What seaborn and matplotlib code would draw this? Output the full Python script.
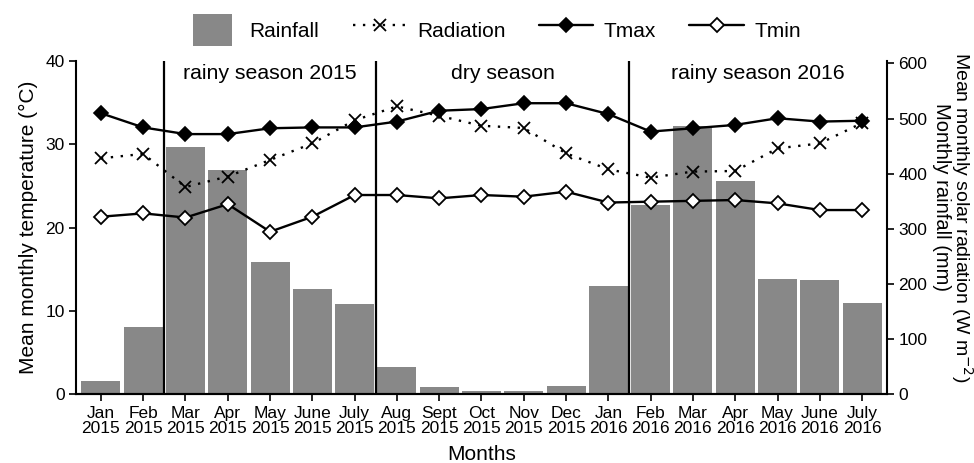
import numpy as np
import pandas as pd
import matplotlib
matplotlib.use("Agg")
import matplotlib.pyplot as plt
import matplotlib.patches as mpatches
from matplotlib.container import BarContainer
from matplotlib.legend_handler import HandlerPatch, update_from_first_child
import seaborn as sns

# ---- data -------------------------------------------------------------
months = ["Jan\n2015", "Feb\n2015", "Mar\n2015", "Apr\n2015", "May\n2015",
          "June\n2015", "July\n2015", "Aug\n2015", "Sept\n2015", "Oct\n2015",
          "Nov\n2015", "Dec\n2015", "Jan\n2016", "Feb\n2016", "Mar\n2016",
          "Apr\n2016", "May\n2016", "June\n2016", "July\n2016"]
rainfall = [24, 122, 449, 406, 240, 191, 164, 49, 14, 6, 6, 16, 196,
            343, 487, 386, 209, 208, 165]                      # mm
radiation = [428, 436, 376, 395, 425, 455, 497, 522, 505, 487, 483, 437,
             408, 393, 404, 405, 446, 455, 492]                # W m-2
tmax = [33.7, 32.0, 31.2, 31.2, 31.9, 32.0, 32.0, 32.7, 34.0, 34.2, 34.9,
        34.9, 33.6, 31.5, 31.9, 32.3, 33.1, 32.7, 32.8]        # deg C
tmin = [21.3, 21.7, 21.2, 22.8, 19.5, 21.3, 23.9, 23.9, 23.5, 23.9, 23.7,
        24.3, 23.0, 23.1, 23.2, 23.3, 22.9, 22.1, 22.1]        # deg C
season_names = ["rainy season 2015", "dry season", "rainy season 2016"]
season_bounds = [1.5, 6.5, 12.5]

df = pd.DataFrame({"month": months, "pos": np.arange(len(months)),
                   "rainfall": rainfall, "radiation": radiation,
                   "tmax": tmax, "tmin": tmin})

# ---- style ------------------------------------------------------------
sns.set_style("ticks")
plt.rcParams["font.family"] = ["Liberation Sans", "DejaVu Sans"]
plt.rcParams.update({
    "axes.linewidth": 1.5,
    "xtick.major.width": 1.2, "ytick.major.width": 1.2,
    "xtick.major.size": 5, "ytick.major.size": 5,
    "xtick.color": "black", "ytick.color": "black",
    "xtick.labelcolor": "black", "ytick.labelcolor": "black",
    "axes.edgecolor": "black", "axes.labelcolor": "black",
    "text.color": "black",
})

BAR = "#888888"
fig = plt.figure(figsize=(9.74, 4.63), dpi=100)
ax_r = fig.add_axes([0.078, 0.148, 0.8327, 0.721])   # rainfall / radiation
ax_t = ax_r.twinx()                                   # temperatures, on top

# rainfall bars and radiation line on the mm / W m-2 scale
sns.barplot(data=df, x="month", y="rainfall", ax=ax_r, color=BAR,
            saturation=1, width=0.92, linewidth=0, label="Rainfall")
sns.lineplot(data=df, x="pos", y="radiation", ax=ax_r, color="black",
             linestyle=(0, (1, 3.2)), linewidth=1.7, marker="x",
             markersize=8, markeredgewidth=1.3, markeredgecolor="black",
             label="Radiation")

# temperature lines on the deg C scale
sns.lineplot(data=df, x="pos", y="tmax", ax=ax_t, color="black",
             linewidth=1.7, marker="D", markersize=7.2,
             markerfacecolor="black", markeredgecolor="black",
             markeredgewidth=1.2, label="Tmax")
sns.lineplot(data=df, x="pos", y="tmin", ax=ax_t, color="black",
             linewidth=1.7, marker="D", markersize=7.2,
             markerfacecolor="white", markeredgecolor="black",
             markeredgewidth=1.3, label="Tmin")

for a in (ax_r, ax_t):
    if a.get_legend() is not None:
        a.get_legend().remove()

# axis sides: temperature on the left, rainfall/radiation on the right
ax_t.yaxis.tick_left()
ax_t.yaxis.set_label_position("left")
ax_r.yaxis.tick_right()
ax_r.yaxis.set_label_position("right")

ax_r.set_xlim(-0.59, len(months) - 1 + 0.59)
ax_r.set_ylim(0, 605)
ax_r.set_yticks([0, 100, 200, 300, 400, 500, 600])
ax_t.set_ylim(0, 40)
ax_t.set_yticks([0, 10, 20, 30, 40])

ax_r.tick_params(axis="x", labelsize=12.5, pad=3, direction="out")
ax_r.tick_params(axis="y", labelsize=12.5, pad=3, direction="out")
ax_t.tick_params(axis="y", labelsize=12.5, pad=3, direction="out")
ax_r.set_xticks(range(len(months)))
ax_r.set_xticklabels(months, linespacing=1.05)

for s in ("top", "left"):
    ax_r.spines[s].set_visible(False)
for s in ("top", "right"):
    ax_t.spines[s].set_visible(False)

ax_r.set_xlabel("Months", fontsize=15)
ax_r.xaxis.set_label_coords(0.5, -0.152)
ax_r.set_ylabel("")
ax_t.set_ylabel("Mean monthly temperature (\u00b0C)", fontsize=15)
ax_t.yaxis.set_label_coords(-0.047, 0.5)

fig.text(0.9877, 0.531, r"Mean monthly solar radiation (W m$^{-2}$)",
         rotation=270, ha="center", va="center", fontsize=14)
fig.text(0.9665, 0.5745, "Monthly rainfall (mm)",
         rotation=270, ha="center", va="center", fontsize=14.5)

# season dividers and names
for b in season_bounds:
    ax_t.axvline(b, color="black", linewidth=1.6, zorder=5)
edges = season_bounds + [ax_r.get_xlim()[1]]
for name, lo, hi in zip(season_names, edges[:-1], edges[1:]):
    ax_t.text((lo + hi) / 2, 0.962, name, transform=ax_t.get_xaxis_transform(),
              ha="center", va="center", fontsize=15.3)

# legend across the top: Rainfall, Radiation, Tmax, Tmin
h_r, l_r = ax_r.get_legend_handles_labels()
h_t, l_t = ax_t.get_legend_handles_labels()
handles = dict(zip(l_r + l_t, h_r + h_t))
order = ["Rainfall", "Radiation", "Tmax", "Tmin"]


def narrow_box(legend, orig_handle, xdescent, ydescent, width, height, fontsize):
    w = width * 0.72
    return mpatches.Rectangle((-xdescent + (width - w) / 2, -ydescent), w, height)


box_handler = HandlerPatch(patch_func=narrow_box, update_func=update_from_first_child)
leg = fig.legend([handles[k] for k in order], order, loc="center", ncol=4,
                 bbox_to_anchor=(0.506, 0.935), frameon=False, fontsize=15,
                 handlelength=2.6, handleheight=2.0, handletextpad=0.5,
                 columnspacing=1.6,
                 handler_map={BarContainer: box_handler,
                              mpatches.Rectangle: box_handler})

fig.savefig("out.png", dpi=100)
